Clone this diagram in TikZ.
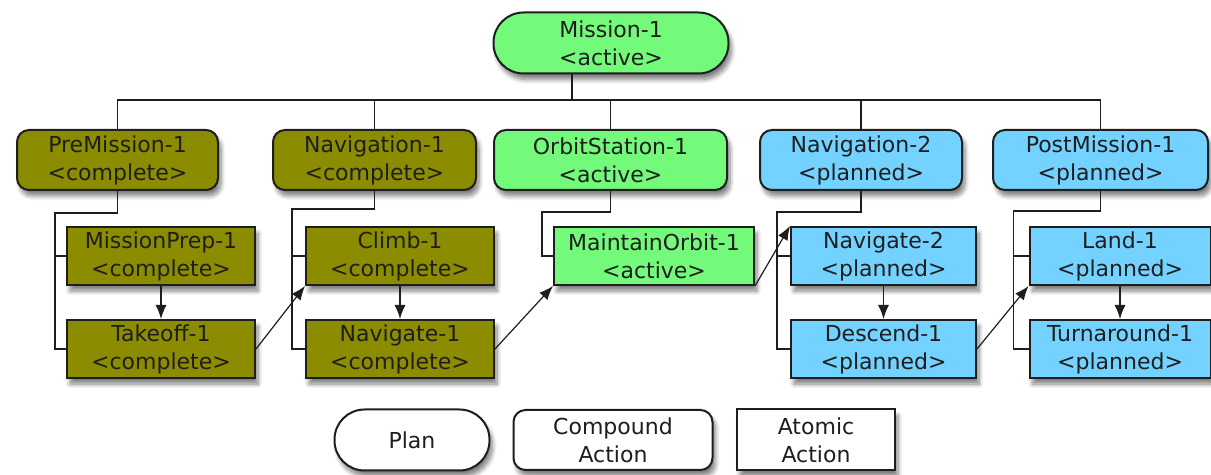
\documentclass[tikz,border=0pt]{standalone}
\usepackage{fontspec}
\setmainfont{DejaVu Sans}
\usetikzlibrary{arrows.meta,shadows.blur}

\definecolor{olivebox}{RGB}{140,140,0}
\definecolor{activebox}{RGB}{115,250,122}
\definecolor{plannedbox}{RGB}{115,210,255}
\definecolor{inkgray}{RGB}{30,30,30}

\begin{document}
\begin{tikzpicture}[
        x=0.5pt, y=-0.5pt,
        base/.style={draw=inkgray, line width=1pt, inner sep=0pt, align=center, text=inkgray,
            font=\fontsize{11}{14}\selectfont,
            blur shadow={shadow xshift=1.5pt, shadow yshift=-3pt, shadow blur steps=8, shadow opacity=50}},
        plan/.style={base, rectangle, rounded corners=15pt, minimum height=30.5pt},
        compound/.style={base, rectangle, rounded corners=6pt, minimum height=30pt},
        atomic/.style={base, rectangle, minimum height=29pt},
        complete/.style={fill=olivebox},
        active/.style={fill=activebox},
        planned/.style={fill=plannedbox},
        link/.style={draw=inkgray, line width=0.7pt},
        arrow/.style={-{Latex[length=7pt,width=5.5pt]}, draw=inkgray, line width=0.6pt}
    ]
    \useasboundingbox (0,0) rectangle (1211,475);

    % Plan
    \node[plan, active, minimum width=117.5pt] (mission) at (611,43) {Mission-1\\<active>};

    % Compound actions
    \node[compound, complete, minimum width=100.5pt] (pre) at (117.5,160) {PreMission-1\\<complete>};
    \node[compound, complete, minimum width=101.5pt] (nav1) at (374.5,160) {Navigation-1\\<complete>};
    \node[compound, active, minimum width=116.5pt] (orbit) at (610.5,160) {OrbitStation-1\\<active>};
    \node[compound, planned, minimum width=101pt] (nav2) at (861,160) {Navigation-2\\<planned>};
    \node[compound, planned, minimum width=107.5pt] (post) at (1100.5,160) {PostMission-1\\<planned>};

    % Atomic actions
    \node[atomic, complete, minimum width=94pt] (prep) at (161,256) {MissionPrep-1\\<complete>};
    \node[atomic, complete, minimum width=94pt] (takeoff) at (161,349) {Takeoff-1\\<complete>};
    \node[atomic, complete, minimum width=94pt] (climb) at (400,256) {Climb-1\\<complete>};
    \node[atomic, complete, minimum width=94pt] (navigate1) at (400,349) {Navigate-1\\<complete>};
    \node[atomic, active, minimum width=100pt] (maint) at (654,256) {MaintainOrbit-1\\<active>};
    \node[atomic, planned, minimum width=92.5pt] (navigate2) at (883.5,256) {Navigate-2\\<planned>};
    \node[atomic, planned, minimum width=92.5pt] (descend) at (883.5,349) {Descend-1\\<planned>};
    \node[atomic, planned, minimum width=90.5pt] (land) at (1120,256) {Land-1\\<planned>};
    \node[atomic, planned, minimum width=90.5pt] (turn) at (1120,349) {Turnaround-1\\<planned>};

    % Legend
    \node[plan, fill=white, minimum width=77.5pt] (legplan) at (412,440) {Plan};
    \node[compound, fill=white, minimum width=99.5pt] (legcomp) at (613,440) {Compound\\Action};
    \node[atomic, fill=white, minimum width=79pt, minimum height=30.5pt] (legatom) at (816,440) {Atomic\\Action};

    % Plan to compound actions
    \coordinate (bus) at (0,100);
    \draw[link] ([xshift=-19.5pt]mission.south) -- ([xshift=-19.5pt]mission.south |- bus);
    \draw[link] (pre.north) |- (bus -| post.north) -- (post.north);
    \foreach \n in {nav1,orbit,nav2}
        \draw[link] (\n.north) -- (\n.north |- bus);

    % Compound actions to atomic actions
    \draw[link] (pre.south) -- ++(0,22) -| ([xshift=-5.5pt]takeoff.west) -- (takeoff.west);
    \draw[link] ([xshift=-5.5pt]prep.west) -- (prep.west);
    \draw[link] (nav1.south) -- ++(0,18) -| ([xshift=-6.5pt]navigate1.west) -- (navigate1.west);
    \draw[link] ([xshift=-6.5pt]climb.west) -- (climb.west);
    \draw[link] (orbit.south) -- ++(0,21) -| ([xshift=-5.5pt]maint.west) -- (maint.west);
    \draw[link] (nav2.south) -- ++(0,21) -| ([xshift=-6.5pt]descend.west) -- (descend.west);
    \draw[link] ([xshift=-6.5pt]navigate2.west) -- (navigate2.west);
    \draw[link] (post.south) -- ++(0,20) -| ([xshift=-7.5pt]turn.west) -- (turn.west);
    \draw[link] ([xshift=-7.5pt]land.west) -- (land.west);

    % Ordering
    \draw[arrow] (prep.south) -- (takeoff.north);
    \draw[arrow] (climb.south) -- (navigate1.north);
    \draw[arrow] (navigate2.south) -- (descend.north);
    \draw[arrow] (land.south) -- (turn.north);
    \draw[arrow] (takeoff.east) -- (climb.south west);
    \draw[arrow] (navigate1.east) -- (maint.south west);
    \draw[arrow] (maint.south east) -- (navigate2.north west);
    \draw[arrow] (descend.east) -- (land.south west);

\end{tikzpicture}
\end{document}
